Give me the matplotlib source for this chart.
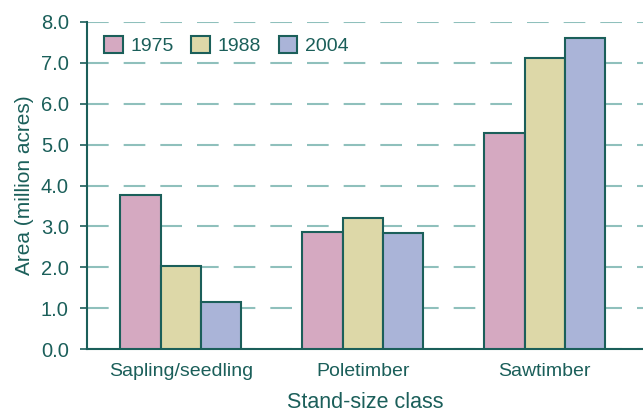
import matplotlib
matplotlib.use("Agg")
import matplotlib.pyplot as plt
import numpy as np

categories = ["Sapling/seedling", "Poletimber", "Sawtimber"]
years = ["1975", "1988", "2004"]
v1975 = [3.76, 2.86, 5.28]
v1988 = [2.02, 3.20, 7.12]
v2004 = [1.15, 2.83, 7.61]
yticks = [0, 1, 2, 3, 4, 5, 6, 7, 8]

colors = ["#d5a9c1", "#ddd8a8", "#aab4d8"]
dark = "#1b5f5a"
gridc = "#8fc0bc"

plt.rcParams['font.family'] = ['Liberation Sans', 'DejaVu Sans']
fig = plt.figure(figsize=(6.43, 4.15), dpi=100)
ax = fig.add_axes([0.135, 0.159, 0.865, 0.788])

x = np.arange(len(categories))
w = 0.222
for i, (vals, lab) in enumerate(zip([v1975, v1988, v2004], years)):
    ax.bar(x + (i - 1) * w, vals, w, color=colors[i], edgecolor=dark, linewidth=1.5,
           label=lab, zorder=3)

ax.set_xlim(-0.516, 2.54)
ax.set_ylim(0, 8)
ax.set_yticks(yticks)
ax.set_yticklabels([f"{t:.1f}" for t in yticks])
ax.set_xticks(x)
ax.set_xticklabels(categories)
ax.yaxis.grid(True, color=gridc, linestyle=(0, (10.4, 7.2)), linewidth=1.5, zorder=0)
ax.set_axisbelow(True)
for s in ["top", "right"]:
    ax.spines[s].set_visible(False)
ax.spines["left"].set_color(dark)
ax.spines["bottom"].set_color(dark)
ax.spines["left"].set_linewidth(1.5)
ax.spines["bottom"].set_linewidth(1.5)
ax.tick_params(axis='y', colors=dark, labelsize=14.5, length=5, width=1.2, direction='out', pad=8)
ax.tick_params(axis='x', colors=dark, labelsize=14, length=0, pad=10)
ax.set_xlabel("Stand-size class", color=dark, fontsize=15.5, labelpad=9)
ax.set_ylabel("Area (million acres)", color=dark, fontsize=15, labelpad=5)

leg = ax.legend(loc="upper left", ncol=3, frameon=False, fontsize=14,
                bbox_to_anchor=(0.0, 1.01), handlelength=0.95, handleheight=0.95,
                columnspacing=0.9, handletextpad=0.4)
for t in leg.get_texts():
    t.set_color(dark)

fig.savefig("out.png", dpi=100)
